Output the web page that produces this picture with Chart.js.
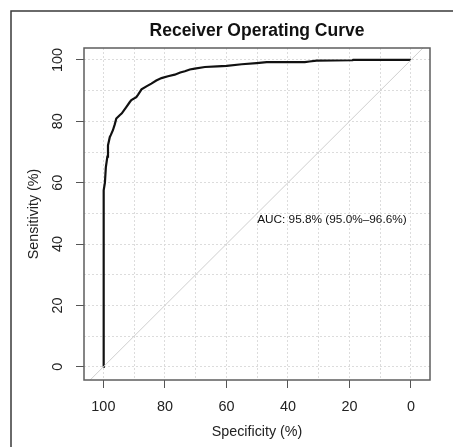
<!DOCTYPE html>
<html>
<head>
<meta charset="utf-8">
<script src="https://cdn.jsdelivr.net/npm/chart.js@4.4.1/dist/chart.umd.min.js"></script>
<style>
  html, body { margin: 0; padding: 0; background: #fff; }
  #wrap { width: 453px; height: 447px; }
</style>
</head>
<body>
<div id="wrap"><canvas id="roc" width="453" height="447"></canvas></div>
<script>
// ROC curve (percent)
const specificity = [100, 100, 99.8, 99.5, 99.2, 98.7, 98.5, 97.9, 97.6, 96.9, 96.3, 95.8, 94.7, 94.0,
  92.5, 91.4, 90.9, 89.3, 88.7, 87.6, 86.0, 84.4, 82.8, 81.1, 79.0, 76.8, 75.0, 73.5, 71.9, 70.3,
  67.0, 63.0, 59.9, 55.0, 50.2, 46.9, 34.5, 33.0, 30.7, 19.0, 18.8, 0];
const sensitivity = [0, 47.5, 57.5, 60, 65, 68.5, 72.2, 74.9, 75.5, 77.1, 79.0, 80.9, 82.0, 82.6,
  84.7, 86.3, 86.9, 87.9, 88.7, 90.4, 91.4, 92.3, 93.3, 94.1, 94.7, 95.2, 95.9, 96.3, 96.9, 97.2,
  97.7, 97.9, 98.1, 98.6, 99.0, 99.3, 99.3, 99.5, 99.8, 99.9, 100, 100];

// chance line (spec + sens = 100), long enough to cross the whole plot
const diagSpec = [110, -10];
const diagSens = [-10, 110];

const tickValues = [0, 20, 40, 60, 80, 100];
const gridValues = [0, 10, 20, 30, 40, 50, 60, 70, 80, 90, 100];

const titleText = 'Receiver Operating Curve';
const xTitle = 'Specificity (%)';
const yTitle = 'Sensitivity (%)';
const aucText = 'AUC: 95.8% (95.0%\u201396.6%)';
const aucAt = [50, 50];

const FONT = '"Liberation Sans", Arial, sans-serif';

function toPoints(xs, ys) {
  return xs.map((x, i) => ({ x: x, y: ys[i] }));
}

function axisOpts(extra) {
  return Object.assign({
    type: 'linear',
    afterBuildTicks: s => { s.ticks = gridValues.map(v => ({ value: v })); },
    grid: {
      color: '#dcdcdc',
      lineWidth: 1,
      drawTicks: true,
      tickLength: 8,
      tickWidth: 1,
      tickColor: ctx => (ctx.tick && tickValues.includes(ctx.tick.value)) ? '#555' : 'rgba(0,0,0,0)'
    },
    border: { display: false, dash: [2, 2] },
    ticks: {
      autoSkip: false,
      color: '#222',
      font: { family: FONT, size: 14.4 },
      callback: v => tickValues.includes(v) ? String(v) : ''
    }
  }, extra);
}

const decor = {
  id: 'decor',
  beforeDraw(chart) {
    const c = chart.ctx;
    c.save();
    c.fillStyle = '#fff';
    c.fillRect(0, 0, chart.width, chart.height);
    c.restore();
  },
  afterDraw(chart) {
    const c = chart.ctx;
    const a = chart.chartArea;
    const xs = chart.scales.x, ys = chart.scales.y;
    c.save();
    // outer frame
    c.strokeStyle = '#3a3a3a';
    c.lineWidth = 1.5;
    c.strokeRect(11, 11, 480, 480);
    // plot box
    c.strokeStyle = '#5e5e5e';
    c.lineWidth = 1.5;
    c.strokeRect(a.left, a.top, a.right - a.left, a.bottom - a.top);
    // title
    c.fillStyle = '#111';
    c.font = 'bold 17.5px ' + FONT;
    c.textAlign = 'center';
    c.textBaseline = 'middle';
    c.fillText(titleText, (a.left + a.right) / 2, 31);
    // AUC label
    c.font = '11.8px ' + FONT;
    c.textAlign = 'left';
    c.textBaseline = 'top';
    c.fillText(aucText, xs.getPixelForValue(aucAt[0]), ys.getPixelForValue(aucAt[1]));
    c.restore();
  }
};

new Chart(document.getElementById('roc'), {
  type: 'scatter',
  data: {
    datasets: [{
      label: 'chance',
      data: toPoints(diagSpec, diagSens),
      showLine: true,
      borderColor: '#cfcfcf',
      borderWidth: 1,
      pointRadius: 0,
      clip: 0
    }, {
      label: 'ROC',
      data: toPoints(specificity, sensitivity),
      showLine: true,
      borderColor: '#111',
      borderWidth: 2.2,
      pointRadius: 0,
      tension: 0
    }]
  },
  options: {
    responsive: false,
    animation: false,
    layout: { padding: { left: 0, top: 48, right: 23, bottom: 0 } },
    plugins: { legend: { display: false }, tooltip: { enabled: false } },
    scales: {
      x: axisOpts({
        reverse: true,
        min: -6.2,
        max: 106.3,
        afterFit: s => { s.height = 67; },
        ticks: {
          autoSkip: false, maxRotation: 0, minRotation: 0, padding: 10,
          color: '#222', font: { family: FONT, size: 14.4 },
          callback: v => tickValues.includes(v) ? String(v) : ''
        },
        title: { display: true, text: xTitle, color: '#222', font: { family: FONT, size: 14.3 }, padding: { top: 0, bottom: 6 } }
      }),
      y: axisOpts({
        min: -4.3,
        max: 103.9,
        afterFit: s => { s.width = 84; },
        ticks: {
          autoSkip: false, minRotation: 90, maxRotation: 90, crossAlign: 'center', padding: 6,
          color: '#222', font: { family: FONT, size: 14.4 },
          callback: v => tickValues.includes(v) ? String(v) : ''
        },
        title: { display: true, text: yTitle, color: '#222', font: { family: FONT, size: 14.3 }, padding: { top: 25, bottom: 0 } }
      })
    }
  },
  plugins: [decor]
});
</script>
</body>
</html>
